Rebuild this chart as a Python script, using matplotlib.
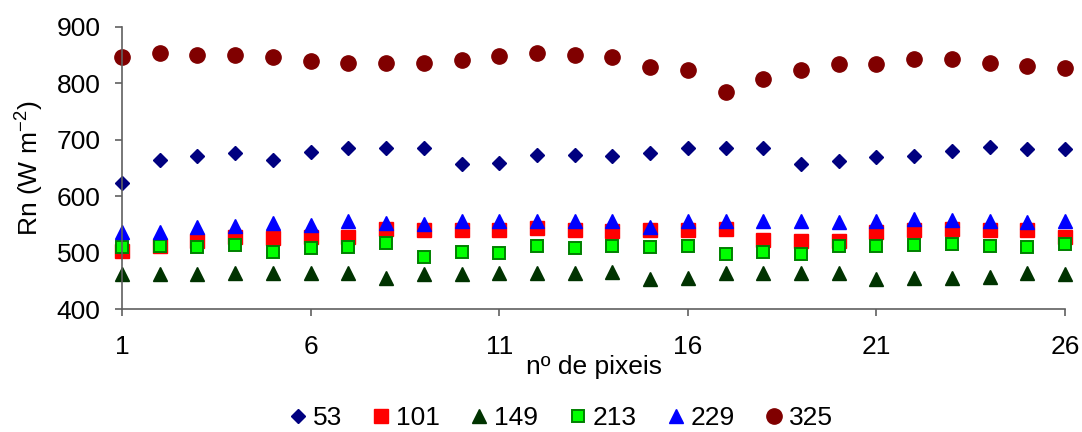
import numpy as np
import matplotlib
matplotlib.use("Agg")
import matplotlib.pyplot as plt

plt.rcParams['font.family'] = ['Liberation Sans', 'DejaVu Sans']

pixels = list(range(1, 27))

rn_53 = [623, 665, 671, 676, 665, 678, 686, 685, 686, 657, 660, 673, 673,
         671, 676, 685, 685, 686, 657, 662, 669, 671, 681, 687, 684, 684]
rn_101 = [503, 513, 521, 528, 526, 528, 528, 542, 541, 540, 540, 544, 540,
          539, 541, 541, 542, 523, 521, 521, 537, 540, 542, 540, 540, 528]
rn_149 = [462, 462, 462, 464, 464, 464, 465, 456, 462, 462, 465, 464, 465,
          466, 453, 456, 464, 465, 465, 465, 453, 455, 456, 458, 464, 462]
rn_213 = [510, 512, 510, 514, 501, 508, 510, 517, 492, 502, 500, 513, 508,
          513, 510, 512, 498, 502, 498, 512, 512, 514, 516, 513, 510, 515]
rn_229 = [537, 537, 546, 547, 552, 550, 556, 552, 551, 557, 557, 556, 557,
          556, 546, 557, 556, 557, 557, 554, 557, 560, 558, 557, 554, 557]
rn_325 = [846, 854, 850, 850, 846, 840, 836, 837, 837, 842, 849, 854, 850,
          847, 830, 823, 784, 808, 823, 835, 835, 843, 843, 837, 831, 828]

fs = 19

fig = plt.figure(figsize=(10.82, 4.32), dpi=100)
ax = fig.add_axes([0.1128, 0.284, 0.8715, 0.6535])

ax.plot(pixels, rn_53, ls='none', marker='D', ms=7.2, color='#000080', label='53', clip_on=False)
ax.plot(pixels, rn_101, ls='none', marker='s', ms=10, color='#FF0000', label='101', clip_on=False)
ax.plot(pixels, rn_149, ls='none', marker='^', ms=10.5, color='#003300', label='149', clip_on=False)
ax.plot(pixels, rn_213, ls='none', marker='s', ms=9, color='#00FF00', mec='#008000', mew=1.4,
        label='213', clip_on=False)
ax.plot(pixels, rn_229, ls='none', marker='^', ms=10.5, color='#0000FF', label='229', clip_on=False)
ax.plot(pixels, rn_325, ls='none', marker='o', ms=11, color='#800000', label='325', clip_on=False)

ax.set_xlim(1, 26)
ax.set_ylim(400, 900)
ax.set_xticks([1, 6, 11, 16, 21, 26])
ax.set_yticks([400, 500, 600, 700, 800, 900])

for s in ['top', 'right']:
    ax.spines[s].set_visible(False)
for s in ['left', 'bottom']:
    ax.spines[s].set_color('#606060')
    ax.spines[s].set_linewidth(1.2)

ax.tick_params(axis='both', direction='out', length=5, width=1.2, color='#606060',
               labelsize=fs, labelcolor='black')
ax.tick_params(axis='x', pad=13.5)
ax.tick_params(axis='y', pad=10.5)

ax.set_xlabel('nº de pixeis', fontsize=fs, labelpad=-3)
ax.set_ylabel('Rn (W m$^{\\mathregular{-2}}$)', fontsize=fs, labelpad=8)

fig.legend(loc='center', bbox_to_anchor=(0.5166, 0.032), ncol=6, frameon=False,
           fontsize=fs, handletextpad=0.07, columnspacing=0.98, handlelength=1.0,
           markerscale=1.0, borderpad=0.2)

plt.savefig("out.png", dpi=100)
